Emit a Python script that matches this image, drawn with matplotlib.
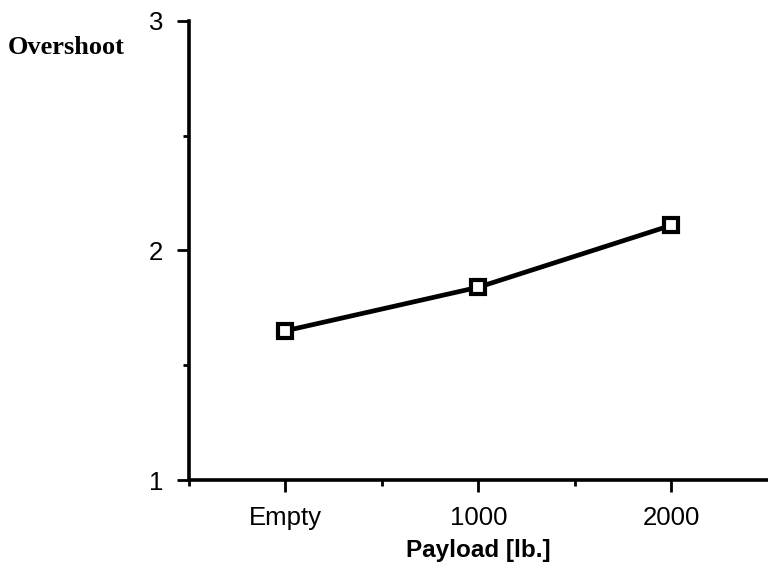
import matplotlib
matplotlib.use("Agg")
import matplotlib.pyplot as plt
from matplotlib.ticker import FixedLocator

# Overshoot vs payload
categories = ["Empty", "1000", "2000"]
overshoot = [1.65, 1.84, 2.11]
y_ticks = [1, 2, 3]
y_minor = [1.5, 2.5]
x_minor = [-0.5, 0.5, 1.5]

fig = plt.figure(figsize=(7.68, 5.73), dpi=100)
ax = fig.add_axes([0.246, 0.1623, 0.754, 0.8011])

x = list(range(len(categories)))
ax.plot(x, overshoot, color="black", lw=3.4, marker="s", ms=9.5,
        mfc="white", mec="black", mew=3.0, solid_capstyle="round")

ax.set_xlim(-0.5, 2.5)
ax.set_ylim(1, 3)

ax.spines["top"].set_visible(False)
ax.spines["right"].set_visible(False)
for s in ("left", "bottom"):
    ax.spines[s].set_linewidth(2.6)

tick_font = dict(fontfamily="Liberation Sans", fontsize=18.5)
ax.set_xticks(x)
ax.set_xticklabels(categories, **tick_font)
ax.xaxis.set_minor_locator(FixedLocator(x_minor))
ax.set_yticks(y_ticks)
ax.set_yticklabels([str(v) for v in y_ticks], **tick_font)
ax.yaxis.set_minor_locator(FixedLocator(y_minor))

ax.tick_params(which="major", direction="out", length=8.5, width=2.0)
ax.tick_params(which="minor", direction="out", length=4.5, width=2.0)
ax.tick_params(axis="x", which="major", pad=10)
ax.tick_params(axis="y", which="major", pad=10)

ax.set_xlabel("Payload [lb.]", fontfamily="Liberation Sans", fontweight="bold",
              fontsize=17.5, labelpad=7)

fig.text(8 / 768, 1 - 48 / 573, "Overshoot", fontfamily="Liberation Serif",
         fontweight="bold", fontsize=19, va="center", ha="left")

fig.savefig("out.png", dpi=100)
